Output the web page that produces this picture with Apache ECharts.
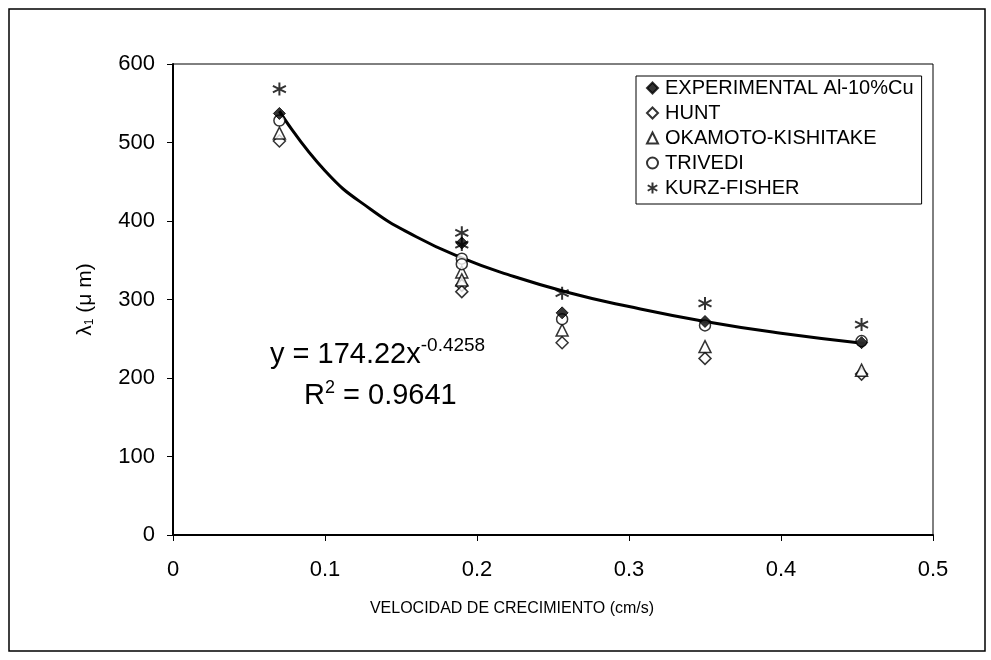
<!DOCTYPE html>
<html>
<head>
<meta charset="utf-8">
<script src="https://cdn.jsdelivr.net/npm/echarts@6/dist/echarts.min.js"></script>
<style>
  html, body { margin: 0; padding: 0; background: #fff; }
  #chart { width: 991px; height: 660px; }
</style>
</head>
<body>
<div id="chart"></div>
<script>
// valores
const xTicks = [0, 0.1, 0.2, 0.3, 0.4, 0.5]
const yTicks = [0, 100, 200, 300, 400, 500, 600]

const expX = [0.07, 0.19, 0.256, 0.35, 0.453]
const expY = [537, 372, 283, 272, 245]

const modelX = [0.07, 0.19, 0.19, 0.256, 0.35, 0.453]
const huntY = [502, 318, 310, 245, 225, 205]
const okamotoY = [512, 335, 325, 261, 240, 210]
const trivediY = [528, 352, 345, 275, 267, 247]
const kurzY = [568, 385, 370, 308, 295, 268]

// linea de tendencia (potencial)
const trendX = [0.07, 0.1, 0.13, 0.16, 0.19, 0.22, 0.26, 0.3, 0.35, 0.4, 0.455]
const trendY = [540, 464, 415, 380, 353, 332, 309, 291, 272, 257, 244]

const names = ['EXPERIMENTAL Al-10%Cu', 'HUNT', 'OKAMOTO-KISHITAKE', 'TRIVEDI', 'KURZ-FISHER']

const FONT = 'Liberation Sans, Arial, sans-serif'
const asterisk = 'path://M0,-10L0,10M-8.66,-5L8.66,5M-8.66,5L8.66,-5'

const pairs = (xs, ys) => xs.map((x, i) => [x, ys[i]])

const openStyle = { color: '#fff', borderColor: '#000', borderWidth: 1.5 }

const chart = echarts.init(document.getElementById('chart'))

const option = {
  backgroundColor: '#fff',
  animation: false,
  textStyle: { fontFamily: FONT, color: '#000' },
  grid: {
    left: 173,
    right: 58,
    top: 64,
    bottom: 125,
    show: true,
    borderColor: '#000',
    borderWidth: 1
  },
  legend: {
    data: names,
    orient: 'vertical',
    left: 636,
    top: 76,
    itemWidth: 11,
    itemHeight: 11,
    itemGap: 5,
    padding: [2, 8, 6, 10],
    borderColor: '#000',
    borderWidth: 1,
    backgroundColor: '#fff',
    textStyle: { fontFamily: FONT, fontSize: 20, color: '#000', padding: [0, 0, 0, 2] }
  },
  xAxis: {
    type: 'value',
    min: 0,
    max: 0.5,
    interval: 0.1,
    name: 'VELOCIDAD DE CRECIMIENTO (cm/s)',
    nameLocation: 'middle',
    nameGap: 66,
    nameTextStyle: { fontFamily: FONT, fontSize: 16, color: '#000', padding: [0, 82, 0, 0] },
    axisLine: { lineStyle: { color: '#000', width: 2 } },
    axisTick: { show: true, inside: false, length: 6, lineStyle: { color: '#000' } },
    axisLabel: {
      margin: 24,
      fontFamily: FONT,
      fontSize: 22,
      color: '#000',
      formatter: v => (xTicks.includes(+v.toFixed(1)) ? String(+v.toFixed(1)) : '')
    },
    splitLine: { show: false }
  },
  yAxis: {
    type: 'value',
    min: 0,
    max: 600,
    interval: 100,
    name: 'λ{sub|1} (μ m)',
    nameLocation: 'middle',
    nameRotate: 90,
    nameGap: 77,
    nameTextStyle: {
      fontFamily: FONT,
      fontSize: 21,
      color: '#000',
      rich: { sub: { fontFamily: FONT, fontSize: 12, verticalAlign: 'bottom', padding: [10, 0, 0, 0] } }
    },
    axisLine: { show: true, lineStyle: { color: '#000', width: 2 } },
    axisTick: { show: true, length: 6, lineStyle: { color: '#000' } },
    axisLabel: {
      margin: 18,
      fontFamily: FONT,
      fontSize: 22,
      color: '#000',
      formatter: v => (yTicks.includes(v) ? String(v) : '')
    },
    splitLine: { show: false }
  },
  graphic: [
    {
      type: 'rect',
      shape: { x: 9, y: 9, width: 976, height: 642 },
      style: { fill: 'none', stroke: '#000', lineWidth: 1.5 },
      silent: true,
      z: -10
    },
    {
      type: 'text',
      left: 270,
      top: 336,
      style: {
        text: 'y = 174.22x{sup|-0.4258}',
        font: '29px ' + FONT,
        fill: '#000',
        rich: {
          sup: { fontFamily: FONT, fontSize: 19, verticalAlign: 'top', padding: [0, 0, 18, 0] }
        }
      }
    },
    {
      type: 'text',
      left: 304,
      top: 379,
      style: {
        text: 'R{sup|2} = 0.9641',
        font: '29px ' + FONT,
        fill: '#000',
        rich: {
          sup: { fontFamily: FONT, fontSize: 18, verticalAlign: 'top', padding: [0, 0, 15, 0] }
        }
      }
    }
  ],
  series: [
    {
      name: 'trend',
      type: 'line',
      data: pairs(trendX, trendY),
      smooth: true,
      showSymbol: false,
      silent: true,
      lineStyle: { color: '#000', width: 3 },
      z: 1
    },
    {
      name: names[0],
      type: 'scatter',
      data: pairs(expX, expY),
      symbol: 'diamond',
      symbolSize: 12,
      itemStyle: { color: '#000', borderColor: '#000', borderWidth: 1 },
      z: 5
    },
    {
      name: names[1],
      type: 'scatter',
      data: pairs(modelX, huntY),
      symbol: 'diamond',
      symbolSize: 12,
      itemStyle: openStyle,
      z: 4
    },
    {
      name: names[2],
      type: 'scatter',
      data: pairs(modelX, okamotoY),
      symbol: 'triangle',
      symbolSize: 12,
      itemStyle: openStyle,
      z: 4
    },
    {
      name: names[3],
      type: 'scatter',
      data: pairs(modelX, trivediY),
      symbol: 'circle',
      symbolSize: 11,
      itemStyle: openStyle,
      z: 4
    },
    {
      name: names[4],
      type: 'scatter',
      data: pairs(modelX, kurzY),
      symbol: asterisk,
      symbolSize: 13,
      itemStyle: { color: '#000', borderColor: '#000', borderWidth: 2 },
      z: 4
    }
  ]
}

chart.setOption(option)
</script>
</body>
</html>
